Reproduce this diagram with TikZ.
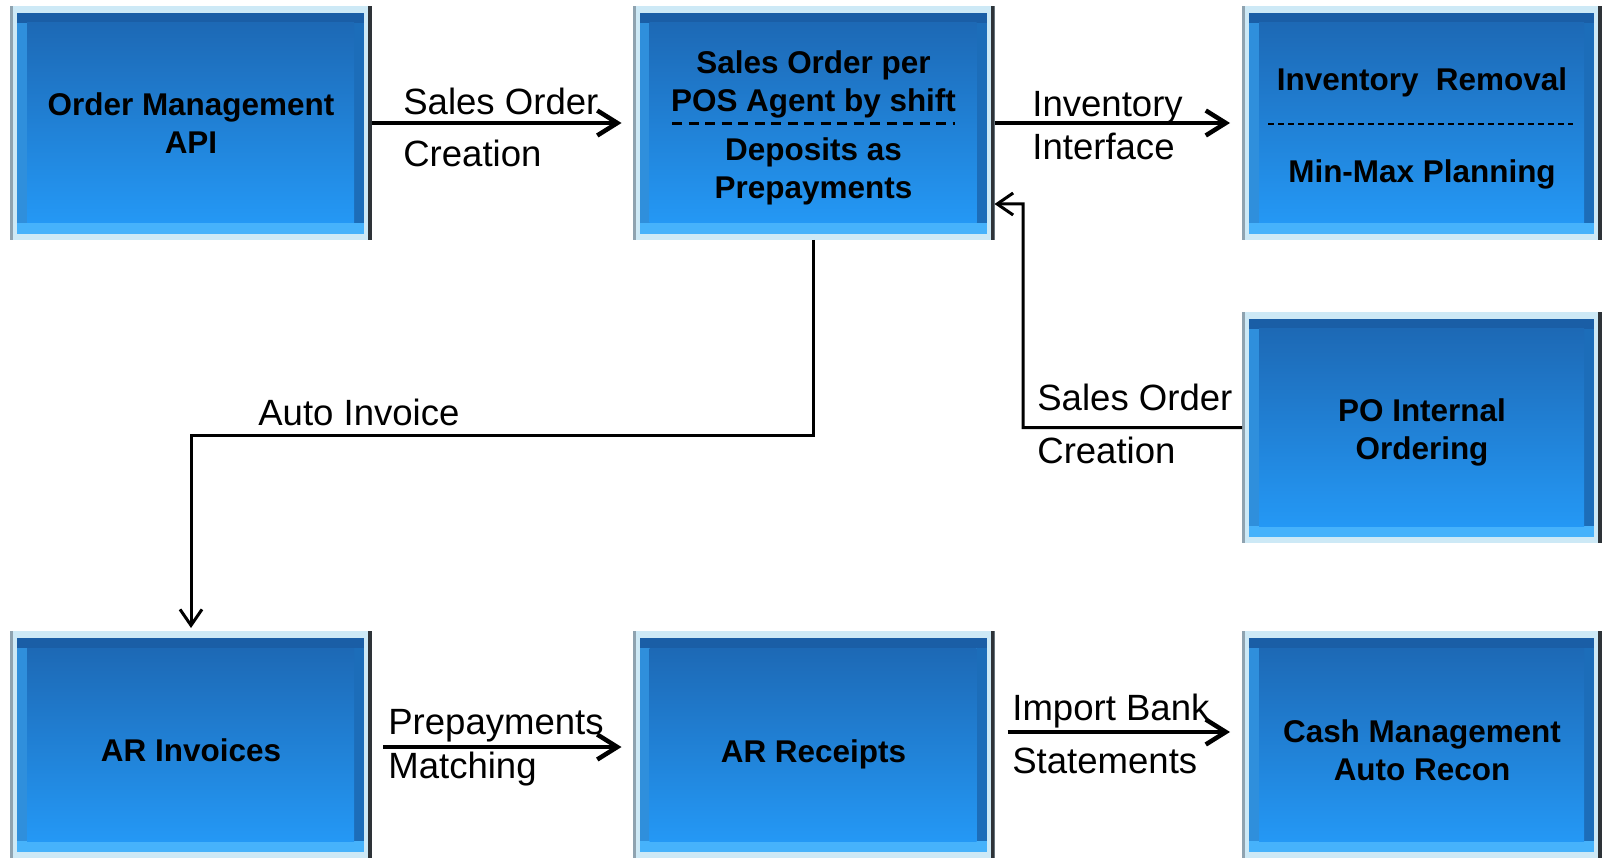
\documentclass[tikz,border=0pt]{standalone}
\usepackage{fontspec}
\setmainfont{Liberation Sans}
\usetikzlibrary{arrows.meta}

\definecolor{rimlight}{HTML}{CDE9F6}
\definecolor{rimgrey}{HTML}{8FA3B0}
\definecolor{rimdark}{HTML}{2E3338}
\definecolor{beveltop}{HTML}{1A5EA6}
\definecolor{bevelbot}{HTML}{46B2FB}
\definecolor{bevelleft}{HTML}{2F8FDC}
\definecolor{bevelright}{HTML}{1C6DB9}
\definecolor{paneltop}{HTML}{1D69B5}
\definecolor{panelbot}{HTML}{2498F5}

\newcommand{\boxfont}{\fontsize{17.9}{21.6}\selectfont\bfseries}
\newcommand{\lblfont}{\fontsize{20.8}{25}\selectfont}
\newcommand{\boxstrut}{\rule{0pt}{19pt}}

\begin{document}
\begin{tikzpicture}[>={Straight Barb[length=0.4cm,width=0.5cm]},
  procbox/.style={rectangle, fill=rimlight, inner sep=0pt, outer sep=0pt,
    minimum width=7.24cm, minimum height=4.68cm, align=center, font=\boxfont,
    path picture={
      \coordinate (bsw) at (path picture bounding box.south west);
      \coordinate (bne) at (path picture bounding box.north east);
      \fill[rimgrey] (bsw) rectangle ([xshift=0.06cm]bsw |- bne);
      \fill[rimdark] ([xshift=-0.08cm]bne |- bsw) rectangle (bne);
      \fill[bevelleft] ([shift={(0.14cm,0.12cm)}]bsw) rectangle ([shift={(-0.16cm,-0.14cm)}]bne);
      \fill[bevelright] ([shift={(-0.36cm,0.12cm)}]bne |- bsw) rectangle ([shift={(-0.16cm,-0.14cm)}]bne);
      \fill[beveltop] ([shift={(0.14cm,-0.34cm)}]bsw |- bne) rectangle ([shift={(-0.16cm,-0.14cm)}]bne);
      \fill[bevelbot] ([shift={(0.14cm,0.12cm)}]bsw) rectangle ([shift={(-0.16cm,0.34cm)}]bne |- bsw);
      \shade[top color=paneltop, bottom color=panelbot]
        ([shift={(0.34cm,0.34cm)}]bsw) rectangle ([shift={(-0.36cm,-0.34cm)}]bne);
    }},
  flow/.style={->, line width=0.09cm},
  feed/.style={-{Straight Barb[length=0.32cm,width=0.44cm]}, line width=0.06cm},
  lbl/.style={font=\lblfont, inner sep=0pt, align=left, anchor=base west}]

\useasboundingbox (0,0) rectangle (32.12,-17.18);

% ============================
% Top row
% ============================
\node[procbox] (oma) at (3.82,-2.46) {Order Management\\API};
\node[procbox] (sop) at (16.27,-2.46) {\boxstrut Sales Order per\\POS Agent by shift\\[6.3pt]Deposits as\\Prepayments};
\node[procbox, minimum width=7.2cm] (inv) at (28.44,-2.46) {\boxstrut Inventory~~Removal\\[30.7pt]Min-Max Planning};

% dashed separators inside boxes
\draw[line width=0.06cm, dash pattern=on 0.2cm off 0.13cm]
  ([shift={(-2.83cm,-0.02cm)}]sop.center) -- ([shift={(2.83cm,-0.02cm)}]sop.center);
\draw[line width=0.04cm, dash pattern=on 0.12cm off 0.08cm]
  ([shift={(-3.08cm,-0.02cm)}]inv.center) -- ([shift={(3.02cm,-0.02cm)}]inv.center);

% ============================
% Middle: PO
% ============================
\node[procbox, minimum width=7.2cm, minimum height=4.62cm] (po) at (28.44,-8.55) {\boxstrut PO Internal\\Ordering};

% ============================
% Bottom row
% ============================
\node[procbox, minimum height=4.54cm] (ari)  at (3.82,-14.89)  {\boxstrut AR Invoices};
\node[procbox, minimum height=4.54cm] (arr)  at (16.27,-14.89) {\rule{0pt}{24pt}AR Receipts};
\node[procbox, minimum width=7.2cm, minimum height=4.54cm] (cash) at (28.44,-14.89) {\boxstrut Cash Management\\Auto Recon};

% ============================
% Top arrows
% ============================
\draw[flow, shorten >=0.22cm] (oma.east) -- (sop.west);
\node[lbl] at (8.06,-3.34) {Sales Order\\[4.6pt]Creation};

\draw[flow, shorten >=0.24cm] (sop.east) -- (inv.west);
\node[lbl] at (20.64,-3.20) {Inventory\\Interface};

% ============================
% PO -> Sales Order (rectangular turn)
% ============================
\coordinate (poturn) at (20.46,-4.08);
\draw[feed] (po.west) -| (poturn) -- ([yshift=-1.62cm]sop.east);
\node[lbl] at (20.74,-9.26) {Sales Order\\[5pt]Creation};

% ============================
% Auto Invoice (down and left)
% ============================
\coordinate (aiturn) at (0,-8.70);
\draw[feed, shorten >=0.06cm] (sop.south) -- (sop.south |- aiturn) -| (ari.north);
\node[lbl] at (5.16,-8.50) {Auto Invoice};

% ============================
% Bottom arrows
% ============================
\draw[flow, shorten <=0.22cm, shorten >=0.22cm] ([yshift=-0.05cm]ari.east) -- ([yshift=-0.05cm]arr.west);
\node[lbl] at (7.76,-15.56) {Prepayments\\Matching};

\draw[flow, shorten <=0.26cm, shorten >=0.24cm] ([yshift=0.25cm]arr.east) -- ([yshift=0.25cm]cash.west);
\node[lbl] at (20.24,-15.46) {Import Bank\\[5pt]Statements};

\end{tikzpicture}
\end{document}
